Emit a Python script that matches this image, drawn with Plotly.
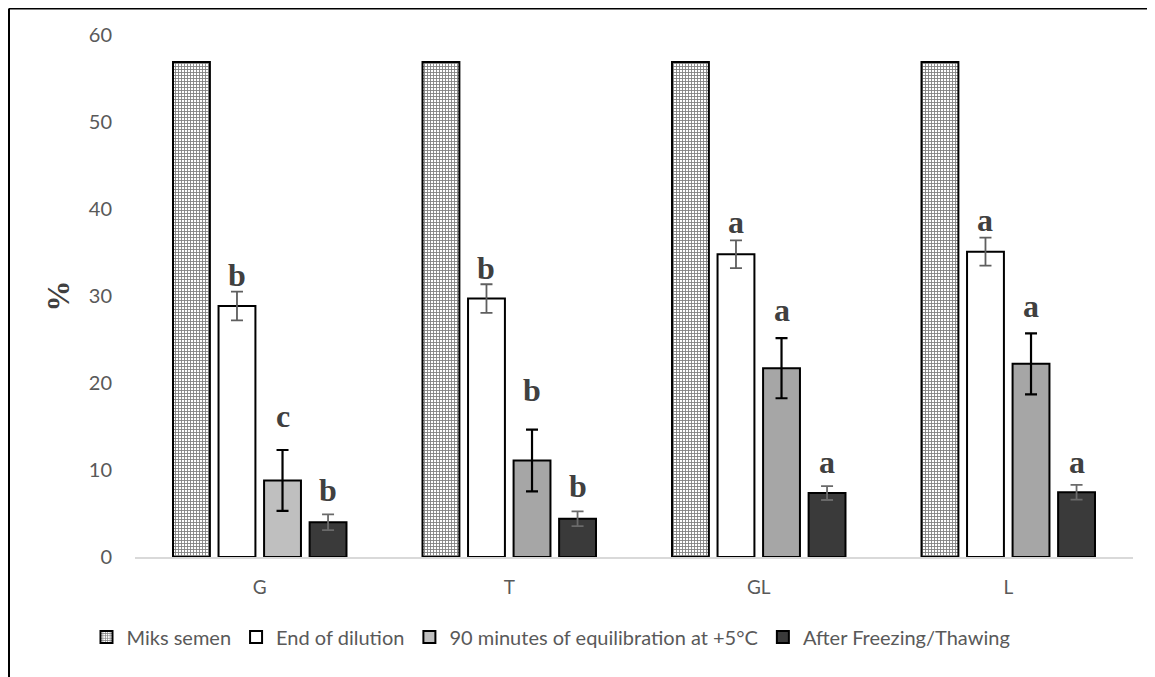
import plotly.graph_objects as go

categories = ["G", "T", "GL", "L"]
series_names = ["Miks semen", "End of dilution",
                "90 minutes of equilibration at +5°C", "After Freezing/Thawing"]
miks = [56.9, 56.9, 56.9, 56.9]
dilution = [28.85, 29.7, 34.8, 35.1]
dilution_err = [1.65, 1.65, 1.6, 1.6]
equil = [8.8, 11.1, 21.7, 22.2]
equil_err = [3.5, 3.55, 3.45, 3.5]
freeze = [4.0, 4.4, 7.35, 7.45]
freeze_err = [0.9, 0.85, 0.8, 0.85]
letters_dilution = ["b", "b", "a", "a"]
letters_equil = ["c", "b", "a", "a"]
letters_freeze = ["b", "b", "a", "a"]

# pixel gap between error bar top and letter baseline (style)
gap_dilution = [5, 4, 6, 6]
gap_equil = [22, 28, 16, 15]
gap_freeze = [12, 13, 12, 11]

OFF = 8  # page body margin
W, H = 1155 - OFF, 677 - OFF
L, R, T, B = 135 - OFF, 22, 35 - OFF, 120
BARGAP = 0.27
BARGROUPGAP = 0.19

fig = go.Figure()
outline = dict(color="black", width=2)
fig.add_trace(go.Bar(
    x=categories, y=miks, name=series_names[0],
    marker=dict(color="white", line=outline,
                pattern=dict(shape="+", fgcolor="black", bgcolor="white",
                             size=3, solidity=0.5, fillmode="overlay")),
))
fig.add_trace(go.Bar(
    x=categories, y=dilution, name=series_names[1],
    marker=dict(color="white", line=outline),
    error_y=dict(type="data", array=dilution_err, color="#5f5f5f", thickness=1.8, width=6),
))
fig.add_trace(go.Bar(
    x=categories, y=equil, name=series_names[2],
    marker=dict(color=["#bfbfbf", "#a6a6a6", "#a6a6a6", "#a6a6a6"], line=outline),
    error_y=dict(type="data", array=equil_err, color="black", thickness=2.2, width=6),
))
fig.add_trace(go.Bar(
    x=categories, y=freeze, name=series_names[3],
    marker=dict(color="#3a3a3a", line=outline),
    error_y=dict(type="data", array=freeze_err, color="#6a6a6a", thickness=1.8, width=6),
))

plot_w = W - L - R
plot_h = H - T - B
slot = plot_w / len(categories) * (1 - BARGAP) / 4

annotations = []
for si, (vals, errs, lets, gaps) in enumerate([
        (dilution, dilution_err, letters_dilution, gap_dilution),
        (equil, equil_err, letters_equil, gap_equil),
        (freeze, freeze_err, letters_freeze, gap_freeze)]):
    idx = si + 1
    for c, v, e, l, g in zip(categories, vals, errs, lets, gaps):
        annotations.append(dict(
            x=c, y=v + e, text=l, showarrow=False, yanchor="bottom",
            xshift=(idx - 1.5) * slot, yshift=g - 8,
            font=dict(family="Liberation Serif", size=32, color="#404040", weight="bold"),
        ))

# convert page pixel coordinates to paper coordinates
px_to_paper = lambda px: (px - OFF - L) / plot_w
py_to_paper = lambda py: (T + plot_h - (py - OFF)) / plot_h
bx, by = px_to_paper(9), py_to_paper(8.5)
shapes = [
    dict(type="line", xref="paper", yref="paper", x0=bx, y0=by, x1=1.2, y1=by,
         line=dict(color="black", width=2)),
    dict(type="line", xref="paper", yref="paper", x0=bx, y0=by, x1=bx, y1=-0.5,
         line=dict(color="black", width=2)),
]

fig.update_layout(
    width=W, height=H,
    margin=dict(l=L, r=R, t=T, b=B),
    paper_bgcolor="white", plot_bgcolor="white",
    barmode="group", bargap=BARGAP, bargroupgap=BARGROUPGAP,
    font=dict(family="Lato", color="#595959", size=20),
    showlegend=True,
    legend=dict(orientation="h", x=px_to_paper(551), xanchor="center",
                y=py_to_paper(637), yanchor="middle", itemwidth=30,
                font=dict(family="Lato", size=20, color="#595959"),
                traceorder="normal"),
    annotations=annotations,
    shapes=shapes,
    xaxis=dict(showline=True, linecolor="#d9d9d9", linewidth=1.5, ticks="",
               tickfont=dict(size=19, color="#595959"), ticklabelstandoff=12),
    yaxis=dict(range=[0, 60], dtick=10, showgrid=False, zeroline=False,
               showline=False, ticks="", ticklabelstandoff=22,
               tickfont=dict(size=20, color="#595959"),
               title=dict(text="%", standoff=9,
                          font=dict(family="Liberation Serif", size=31,
                                    color="#404040", weight="bold"))),
)

fig.write_html("out.html")
